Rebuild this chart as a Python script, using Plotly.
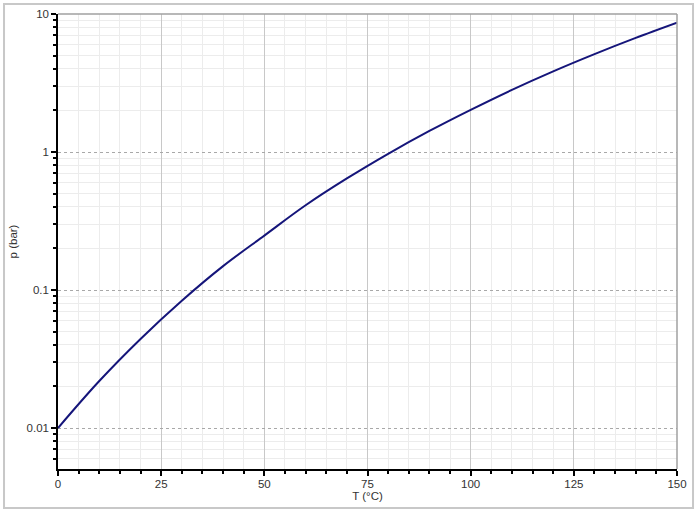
import plotly.graph_objects as go

# Temperature (°C) and pressure (bar)
T_C = [0, 10, 20, 30, 40, 50, 60, 70, 80, 90, 100, 110, 120, 130, 140, 150]
p_bar = [0.01, 0.0219, 0.0442, 0.0836, 0.149, 0.248, 0.411, 0.643, 0.970, 1.42,
         2.02, 2.82, 3.84, 5.12, 6.71, 8.65]

x_ticks = [0, 25, 50, 75, 100, 125, 150]
x_minor = [v for v in range(0, 151, 5) if v % 25 != 0]
y_ticks = [0.01, 0.1, 1, 10]
y_tick_text = ["0.01", "0.1", "1", "10"]
y_minor = [m * 10.0 ** e for e in (-3, -2, -1, 0) for m in range(2, 10)]

fig = go.Figure()
fig.add_trace(go.Scatter(
    x=T_C, y=p_bar, mode="lines", line=dict(color="#15157a", width=2, shape="spline"),
    showlegend=False, hoverinfo="skip"))

fnt = dict(family="Liberation Sans, Arial, sans-serif", size=11.5, color="#333333")

fig.update_layout(
    width=697, height=512,
    margin=dict(l=58, r=20, t=14, b=43),
    paper_bgcolor="white", plot_bgcolor="white",
    font=fnt,
    xaxis=dict(
        range=[0, 150], tickmode="array", tickvals=x_ticks, automargin=False,
        showline=True, linecolor="black", linewidth=1.5,
        ticks="outside", ticklen=5, tickwidth=1.5, tickcolor="black",
        ticklabelstandoff=-2,
        showgrid=True, gridcolor="#c8c8c8", gridwidth=1,
        zeroline=False,
        minor=dict(tickmode="array", tickvals=x_minor, ticks="outside", ticklen=3,
                   tickcolor="black", tickwidth=1.5, showgrid=True, gridcolor="#ececec",
                   gridwidth=1, griddash="solid"),
        title=dict(text="T (°C)", font=fnt, standoff=3),
        tickfont=fnt,
    ),
    yaxis=dict(
        type="log", range=[-2.297, 1], tickmode="array", tickvals=y_ticks, ticktext=y_tick_text,
        automargin=False,
        showline=True, linecolor="black", linewidth=1.5,
        ticks="outside", ticklen=5, tickwidth=1.5, tickcolor="black",
        showgrid=True, gridcolor="#a8a8a8", gridwidth=1, griddash="dot",
        zeroline=False,
        minor=dict(tickmode="array", tickvals=y_minor, ticks="outside", ticklen=3,
                   tickcolor="black", tickwidth=1.5, showgrid=True, gridcolor="#ececec",
                   gridwidth=1, griddash="solid"),
        title=dict(text="p (bar)", font=fnt, standoff=7),
        tickfont=fnt,
    ),
    shapes=[
        # top and right plot border
        dict(type="line", xref="paper", yref="paper", x0=0, x1=1, y0=1, y1=1,
             line=dict(color="#a0a0a0", width=1.5), layer="above"),
        dict(type="line", xref="paper", yref="paper", x0=1, x1=1, y0=0, y1=1,
             line=dict(color="#a0a0a0", width=1.5), layer="above"),
        # outer frame
        dict(type="rect", xref="paper", yref="paper",
             x0=-0.0872, x1=1.0259, y0=-0.0857, y1=1.022,
             line=dict(color="#c8c8c8", width=2), fillcolor="rgba(0,0,0,0)", layer="below"),
    ],
)

fig.write_html("out.html", config={"displayModeBar": False},
               post_script="document.body.style.margin='0px';")
